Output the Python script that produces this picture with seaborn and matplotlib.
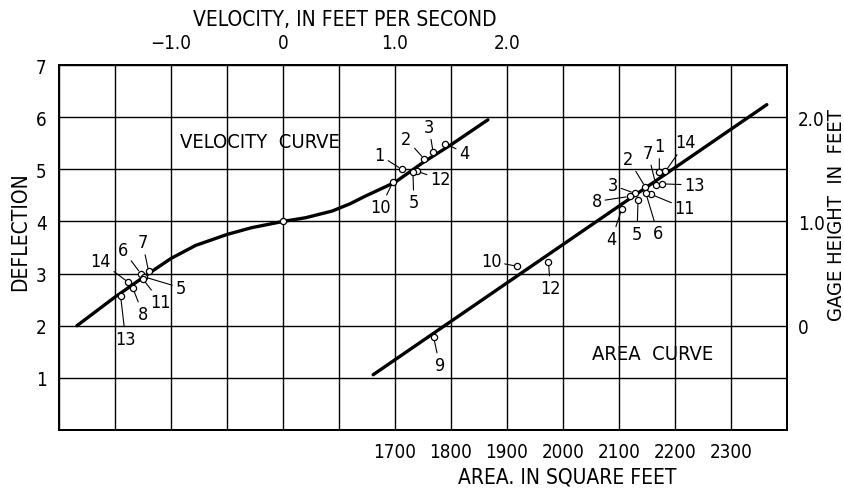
import numpy as np
import matplotlib
matplotlib.use("Agg")
import matplotlib.pyplot as plt
import seaborn as sns

# ---------------- data ----------------
# velocity curve: deflection vs velocity (ft/s)
vel_curve_v = [-1.84, -1.5, -1.2, -1.0, -0.78, -0.5, -0.28, 0.0, 0.2, 0.44, 0.6, 0.73, 1.0, 1.25, 1.5, 1.83]
vel_curve_d = [2.0, 2.55, 3.0, 3.29, 3.54, 3.75, 3.88, 4.0, 4.07, 4.2, 4.34, 4.48, 4.75, 5.13, 5.47, 5.95]

# area curve: gage height (ft) vs area (sq ft)
area_curve_a = [1661, 2364]
area_curve_g = [-0.47, 2.12]

# numbered observations on the velocity curve
vel_pt_label = ['7', '6', '5', '11', '14', '8', '13', '1', '2', '3', '4', '12', '5', '10']
vel_pt_v = [-1.20, -1.27, -1.245, -1.25, -1.38, -1.34, -1.45, 1.06, 1.26, 1.34, 1.45, 1.20, 1.16, 0.98]
vel_pt_d = [3.04, 3.00, 2.94, 2.89, 2.83, 2.72, 2.57, 5.00, 5.20, 5.33, 5.49, 4.96, 4.94, 4.75]

# origin point of velocity curve
vel_origin_v = [0.0]
vel_origin_d = [4.0]

# numbered observations on the area curve
area_pt_label = ['14', '1', '7', '13', '2', '11', '6', '3', '8', '5', '4', '10', '12', '9']
area_pt_a = [2183, 2172, 2166, 2176, 2147, 2157, 2148, 2128, 2119, 2134, 2105, 1918, 1974, 1769]
area_pt_g = [1.48, 1.47, 1.35, 1.36, 1.33, 1.26, 1.27, 1.27, 1.24, 1.21, 1.12, 0.57, 0.61, -0.11]

# tick labels
area_ticks = [1700, 1800, 1900, 2000, 2100, 2200, 2300]
vel_ticks = [-1.0, 0.0, 1.0, 2.0]
vel_tick_labels = ['\u22121.0', '0', '1.0', '2.0']
defl_ticks = [1, 2, 3, 4, 5, 6, 7]
gage_ticks = [0.0, 1.0, 2.0]
gage_tick_labels = ['0', '1.0', '2.0']

# ---------------- layout (label offsets in pixels) ----------------
vel_offsets = [(-6, 29), (-18, 24), (37, -11), (18, -23), (-28, 21), (10, -26), (5, -43),
               (-22, 14), (-18, 20), (-4, 25), (19, -9), (23, -8), (1, -30), (-12, -25)]
area_offsets = [(20, 29), (0, 26), (-8, 32), (33, -1), (-17, 28), (34, -14), (12, -40),
                (-22, 8), (-33, -5), (-1, -34), (-10, -30), (-26, 5), (2, -26), (6, -28)]

sns.set_theme(style="white")
plt.rcParams['font.family'] = ['DejaVu Sans']
plt.rcParams['font.stretch'] = 'condensed'
plt.rcParams['text.color'] = 'black'
plt.rcParams['xtick.color'] = 'black'
plt.rcParams['ytick.color'] = 'black'

W, H = 844, 489
fig = plt.figure(figsize=(W / 100, H / 100), dpi=100)
ax = fig.add_axes([59 / W, 1 - 431 / H, 728 / W, 365 / H])

TS = 13.5  # tick label size

# primary axis: area (bottom) x deflection (left)
ax.set_xlim(1100, 2400)
ax.set_ylim(0, 7)
grid_x = np.arange(1100, 2401, 100)
ax.set_xticks(grid_x)
ax.set_xticklabels([str(t) if t in area_ticks else '' for t in grid_x])
grid_y = np.arange(0, 8)
ax.set_yticks(grid_y)
ax.set_yticklabels([str(t) if t in defl_ticks else '' for t in grid_y])
ax.grid(True, color='black', lw=1.0)
ax.tick_params(length=0, labelsize=TS, pad=9)

# velocity axis (top)
axv = ax.twiny()
axv.set_xlim(-2.0, 4.5)
axv.set_xticks(vel_ticks)
axv.set_xticklabels(vel_tick_labels)
axv.tick_params(length=0, labelsize=TS, pad=9)

# gage height axis (right)
axg = ax.twinx()
axg.set_ylim(-1.0, 2.5)
axg.set_yticks(gage_ticks)
axg.set_yticklabels(gage_tick_labels)
axg.tick_params(length=0, labelsize=TS, pad=8)

for a in (ax, axv, axg):
    for s in a.spines.values():
        s.set_color('black')
        s.set_linewidth(1.2)

# curves
sns.lineplot(x=vel_curve_v, y=vel_curve_d, ax=axv, color='black', lw=2.4,
             estimator=None, sort=False)
sns.lineplot(x=area_curve_a, y=area_curve_g, ax=axg, color='black', lw=2.4,
             estimator=None, sort=False)

# points
mk = dict(marker='o', s=20, facecolor='white', edgecolor='black', linewidth=0.9, zorder=5)
sns.scatterplot(x=vel_pt_v, y=vel_pt_d, ax=axv, **mk)
sns.scatterplot(x=vel_origin_v, y=vel_origin_d, ax=axv, **mk)
sns.scatterplot(x=area_pt_a, y=area_pt_g, ax=axg, **mk)

arrow = dict(arrowstyle='-', lw=0.8, color='black', shrinkA=0, shrinkB=2.5)
for lab, v, d, off in zip(vel_pt_label, vel_pt_v, vel_pt_d, vel_offsets):
    axv.annotate(lab, xy=(v, d), xytext=off, textcoords='offset pixels',
                 ha='center', va='center', fontsize=13, arrowprops=arrow)
for lab, a_, g, off in zip(area_pt_label, area_pt_a, area_pt_g, area_offsets):
    axg.annotate(lab, xy=(a_, g), xytext=off, textcoords='offset pixels',
                 ha='center', va='center', fontsize=13, arrowprops=arrow)

for a in (ax, axv, axg):
    a.set_xlabel('')
    a.set_ylabel('')

# titles and curve names
fig.text(345 / W, 1 - 20 / H, 'VELOCITY, IN FEET PER SECOND', ha='center', va='center', fontsize=15)
fig.text(567 / W, 1 - 478 / H, 'AREA. IN SQUARE FEET', ha='center', va='center', fontsize=15)
fig.text(20 / W, 1 - 232 / H, 'DEFLECTION', ha='center', va='center', rotation=90, fontsize=15)
fig.text(836 / W, 1 - 215 / H, 'GAGE HEIGHT  IN  FEET', ha='center', va='center', rotation=90, fontsize=14.5)
fig.text(180 / W, 1 - 143 / H, 'VELOCITY  CURVE', ha='left', va='center', fontsize=14.5)
fig.text(592 / W, 1 - 354 / H, 'AREA  CURVE', ha='left', va='center', fontsize=14.5)

fig.savefig('out.png', dpi=100)
